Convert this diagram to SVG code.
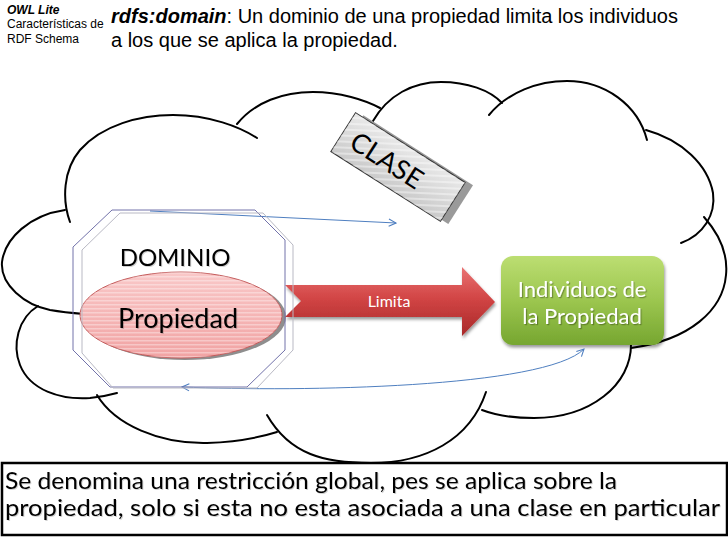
<svg xmlns="http://www.w3.org/2000/svg" width="728" height="546" viewBox="0 0 728 546">
<defs>
<style>
.cloud{fill:none;stroke:#000;stroke-width:2;stroke-linecap:round}
.conn{fill:none;stroke:#4f7fc0;stroke-width:1}
.hdr{font-family:"Liberation Sans",Arial,sans-serif;fill:#000}
.cal{font-family:Lato,"Open Sans",sans-serif}
.oct1{fill:none;stroke:#7272aa;stroke-width:1}
.oct2{fill:none;stroke:#b9b9c4;stroke-width:1}
</style>
<linearGradient id="gGreen" x1="0" y1="0" x2="0" y2="1">
<stop offset="0" stop-color="#bcde72"/>
<stop offset="0.5" stop-color="#9cc64f"/>
<stop offset="1" stop-color="#76a630"/>
</linearGradient>
<linearGradient id="gRed" x1="0" y1="0" x2="0" y2="1">
<stop offset="0" stop-color="#e97373"/>
<stop offset="0.45" stop-color="#d24545"/>
<stop offset="1" stop-color="#a82828"/>
</linearGradient>
<linearGradient id="gPink" x1="0" y1="0" x2="0" y2="1">
<stop offset="0" stop-color="#f9c8c8"/>
<stop offset="1" stop-color="#f1a3a3"/>
</linearGradient>
<pattern id="pStripe" width="8" height="4" patternUnits="userSpaceOnUse">
<rect width="8" height="1.5" fill="#fff" fill-opacity="0.35"/>
</pattern>
<linearGradient id="gGray" x1="0" y1="0" x2="0" y2="1">
<stop offset="0" stop-color="#e8e8e8"/>
<stop offset="1" stop-color="#cacaca"/>
</linearGradient>
<pattern id="pHatch" width="6" height="6" patternUnits="userSpaceOnUse" patternTransform="rotate(-30)">
<rect width="6" height="2" fill="#fff" fill-opacity="0.4"/>
</pattern>
<marker id="mOpen" viewBox="0 0 10 10" refX="9" refY="5" markerWidth="9" markerHeight="9" markerUnits="userSpaceOnUse" orient="auto-start-reverse">
<path d="M1,1 L9,5 L1,9" fill="none" stroke="#4f7fc0" stroke-width="1.2"/>
</marker>
<filter id="fSh" x="-10%" y="-20%" width="130%" height="150%">
<feDropShadow dx="1.2" dy="1.2" stdDeviation="0.6" flood-color="#000" flood-opacity="0.3"/>
</filter>
<filter id="fSoft" x="-5%" y="-20%" width="115%" height="150%">
<feDropShadow dx="1" dy="1" stdDeviation="0.6" flood-color="#000" flood-opacity="0.18"/>
</filter>
<filter id="fBox" x="-10%" y="-10%" width="125%" height="130%">
<feDropShadow dx="1" dy="2.5" stdDeviation="1.5" flood-color="#000" flood-opacity="0.4"/>
</filter>
</defs>

<g id="header">
<text class="hdr" x="7" y="14" font-size="12" font-weight="bold" font-style="italic">OWL Lite</text>
<text class="hdr" x="7" y="28" font-size="12">Características de</text>
<text class="hdr" x="7" y="43" font-size="12">RDF Schema</text>
<text class="hdr" x="111" y="23" font-size="20"><tspan font-weight="bold" font-style="italic">rdfs:domain</tspan>: Un dominio de una propiedad limita los individuos</text>
<text class="hdr" x="111" y="47" font-size="20">a los que se aplica la propiedad.</text>
</g>

<g id="cloud">
<path class="cloud" d="M65,210 C30,215 5,238 2,262 C0,285 25,305 50,310 C62,312 72,313 84,314"/>
<path class="cloud" d="M70,222 C62,200 63,170 80,150 C102,125 140,115 173,115 C210,115 240,127 257,138"/>
<path class="cloud" d="M237,124 C255,102 283,92 313,92 C340,92 365,100 380,108"/>
<path class="cloud" d="M373,121 C388,95 413,82 441,82 C467,82 490,90 502,103"/>
<path class="cloud" d="M489,115 C508,92 538,81 567,81 C605,81 638,105 647,140"/>
<path class="cloud" d="M646,130 C682,140 708,165 713,193 C716,215 703,235 681,243"/>
<path class="cloud" d="M704,217 C720,235 728,255 726,275 C723,310 690,340 631,348"/>
<path class="cloud" d="M631,343 C632,385 590,418 534,418 C512,418 495,415 482,410"/>
<path class="cloud" d="M486,392 C470,440 425,463 371,463 C325,463 290,455 267,415"/>
<path class="cloud" d="M97,395 C115,425 160,444 207,443 C235,442 258,438 277,432"/>
<path class="cloud" d="M38,306 C18,318 12,345 20,365 C30,390 60,400 90,398 C100,397 110,395 117,393"/>
</g>

<g id="clase" transform="translate(398,167) rotate(32.5)">
<rect x="-57" y="-25" width="130" height="46" fill="#9a9a9a"/>
<rect x="-65" y="-23" width="130" height="46" fill="url(#gGray)" stroke="#333" stroke-width="1"/>
<rect x="-65" y="-23" width="130" height="46" fill="url(#pHatch)"/>
<text class="cal" x="-13" y="10" font-size="27" text-anchor="middle" fill="#000">CLASE</text>
</g>

<g id="individuos">
<rect x="501" y="256" width="163" height="89" rx="12" fill="url(#gGreen)" filter="url(#fBox)"/>
<text class="cal" x="582" y="297" font-size="22" text-anchor="middle" fill="#fff" filter="url(#fSh)">Individuos de</text>
<text class="cal" x="582" y="324" font-size="22" text-anchor="middle" fill="#fff" filter="url(#fSh)">la Propiedad</text>
</g>

<g id="propiedad">
<ellipse cx="185" cy="317" rx="101" ry="43" fill="#8e8e8e"/>
<ellipse cx="181" cy="315" rx="101" ry="43" fill="url(#gPink)" stroke="#c45c5c" stroke-width="1"/>
<ellipse cx="181" cy="315" rx="101" ry="43" fill="url(#pStripe)"/>
<text class="cal" x="178" y="328" font-size="27" text-anchor="middle" fill="#000" filter="url(#fSoft)">Propiedad</text>
</g>

<g id="connectors">
<g id="limita">
<polygon points="285,285 462,285 462,267 495,302 462,336 462,317 285,317 301,301" fill="url(#gRed)" filter="url(#fBox)"/>
<text class="cal" x="389" y="307" font-size="16" text-anchor="middle" fill="#fff">Limita</text>
</g>
<path class="conn" d="M150,211 L396,223" marker-end="url(#mOpen)"/>
<path class="conn" d="M182,387 C300,392 545,388 584,349" marker-start="url(#mOpen)" marker-end="url(#mOpen)"/>
</g>

<g id="dominio">
<polygon class="oct1" points="112,210 255,210 285,240 285,350 247,387 110,387 73,350 73,247"/>
<polygon class="oct2" points="120,213 263,213 293,245 293,350 257,388 113,388 82,353 82,250"/>
<text class="cal" x="175" y="266" font-size="24" text-anchor="middle" fill="#000" filter="url(#fSoft)">DOMINIO</text>
</g>

<g id="nota">
<rect x="2" y="463" width="725" height="72" fill="#fff" stroke="#000" stroke-width="2.5"/>
<text class="cal" x="5" y="489" font-size="22.5" textLength="612" lengthAdjust="spacingAndGlyphs" fill="#000" filter="url(#fSoft)">Se denomina una restricción global, pes se aplica sobre la</text>
<text class="cal" x="5" y="516" font-size="22.5" textLength="715" lengthAdjust="spacingAndGlyphs" fill="#000" filter="url(#fSoft)">propiedad, solo si esta no esta asociada a una clase en particular</text>
</g>
</svg>
